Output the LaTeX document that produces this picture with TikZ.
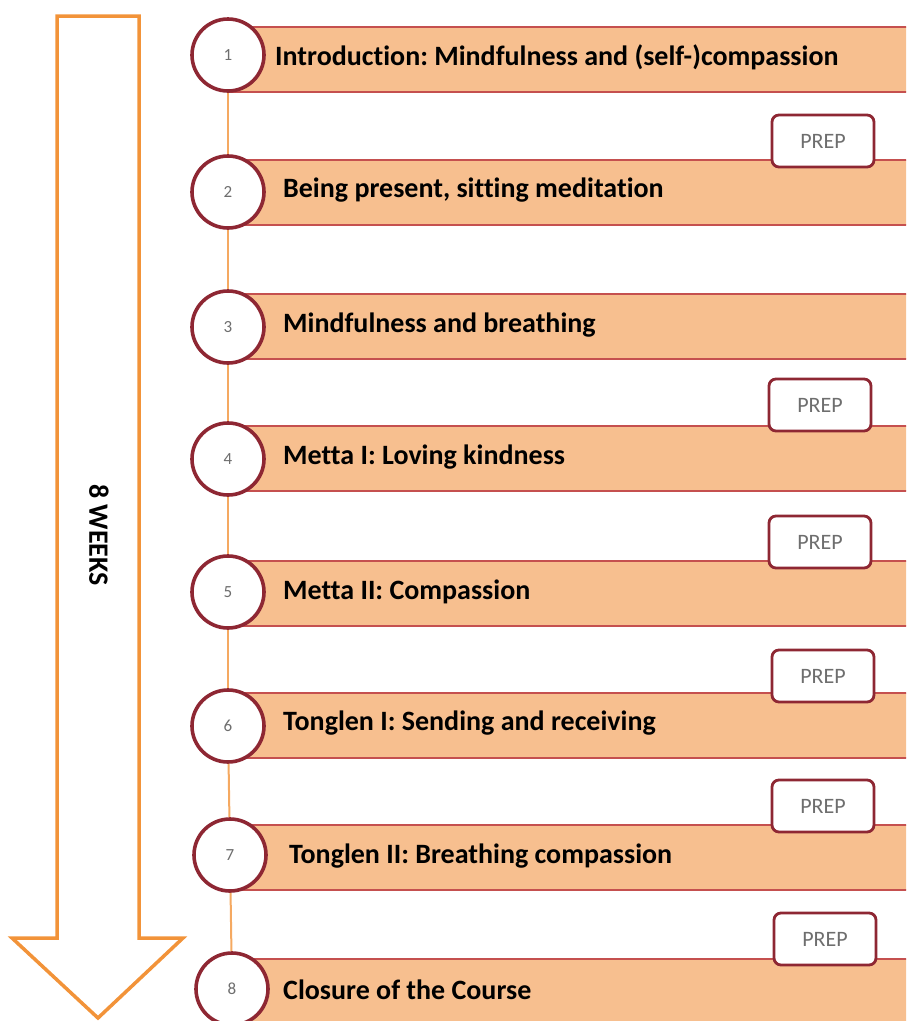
\documentclass[tikz,border=0pt]{standalone}
\usepackage{fontspec}
\setmainfont{Carlito}[Ligatures=NoCommon]
\frenchspacing
\definecolor{arroworange}{HTML}{F29339}
\definecolor{barfill}{HTML}{F7BF8F}
\definecolor{barline}{HTML}{C5504F}
\definecolor{ringred}{HTML}{8E2733}
\definecolor{numgray}{HTML}{6E6E6E}
\begin{document}
\begin{tikzpicture}[x=1pt, y=-1pt,
  week/.style={circle, minimum size=72pt, inner sep=0pt, line width=3.6pt, draw=ringred, fill=white, text=numgray, font=\fontsize{17}{17}\selectfont},
  bar/.style={rectangle, anchor=west, minimum width=720pt, minimum height=65pt, draw=barline, line width=2pt, fill=barfill},
  topic/.style={anchor=west, inner sep=0pt, font=\fontsize{28}{28}\selectfont\bfseries},
  prep/.style={rectangle, rounded corners=7pt, minimum width=102pt, minimum height=52pt, draw=ringred, line width=2.8pt, fill=white, text=numgray, font=\fontsize{22}{22}\selectfont},
  link/.style={draw=arroworange!80, line width=2pt}]
\path[use as bounding box, clip] (0,0) rectangle (906,1021);

% big arrow
\draw [arroworange, line width=3.5pt, line join=miter] (57,16) -- (139,16) -- (139,938) -- (183,938) -- (98,1018) -- (12,938) -- (57,938) -- cycle;
\node [rotate=-90, font=\fontsize{28}{28}\selectfont\bfseries] (weeks) at (99,535) {8 WEEKS};

% bars
\node [bar] (b1) at (228,59) {};
\node [bar] (b2) at (228,192) {};
\node [bar] (b3) at (228,326) {};
\node [bar] (b4) at (228,458) {};
\node [bar] (b5) at (228,593) {};
\node [bar] (b6) at (228,725) {};
\node [bar] (b7) at (228,857) {};
\node [bar] (b8) at (228,991) {};

\node [topic] (t1) at (275,57) {Introduction: Mindfulness and (self-)compassion};
\node [topic] (t2) at (283,190) {Being present, sitting meditation};
\node [topic] (t3) at (283,325) {Mindfulness and breathing};
\node [topic] (t4) at (283,457) {Metta I: Loving kindness};
\node [topic] (t5) at (283,592) {Metta II: Compassion};
\node [topic] (t6) at (283,723) {Tonglen I: Sending and receiving};
\node [topic] (t7) at (289,856) {Tonglen II: Breathing compassion};
\node [topic] (t8) at (283,990) {Closure of the Course};

% prep boxes
\node [prep] (p2) at (823,141) {PREP};
\node [prep] (p4) at (820,405) {PREP};
\node [prep] (p5) at (820,542) {PREP};
\node [prep] (p6) at (823,676) {PREP};
\node [prep] (p7) at (823,806) {PREP};
\node [prep] (p8) at (825,939) {PREP};

% week circles
\node [week] (w1) at (228,55) {1};
\node [week] (w2) at (228,192) {2};
\node [week] (w3) at (228,327) {3};
\node [week] (w4) at (228,459) {4};
\node [week] (w5) at (228,592) {5};
\node [week] (w6) at (228,726) {6};
\node [week] (w7) at (230,855) {7};
\node [week] (w8) at (232,989) {8};

\draw [link] (w1) -- (w2);
\draw [link] (w2) -- (w3);
\draw [link] (w3) -- (w4);
\draw [link] (w4) -- (w5);
\draw [link] (w5) -- (w6);
\draw [link] (w6) -- (w7);
\draw [link] (w7) -- (w8);
\end{tikzpicture}
\end{document}
